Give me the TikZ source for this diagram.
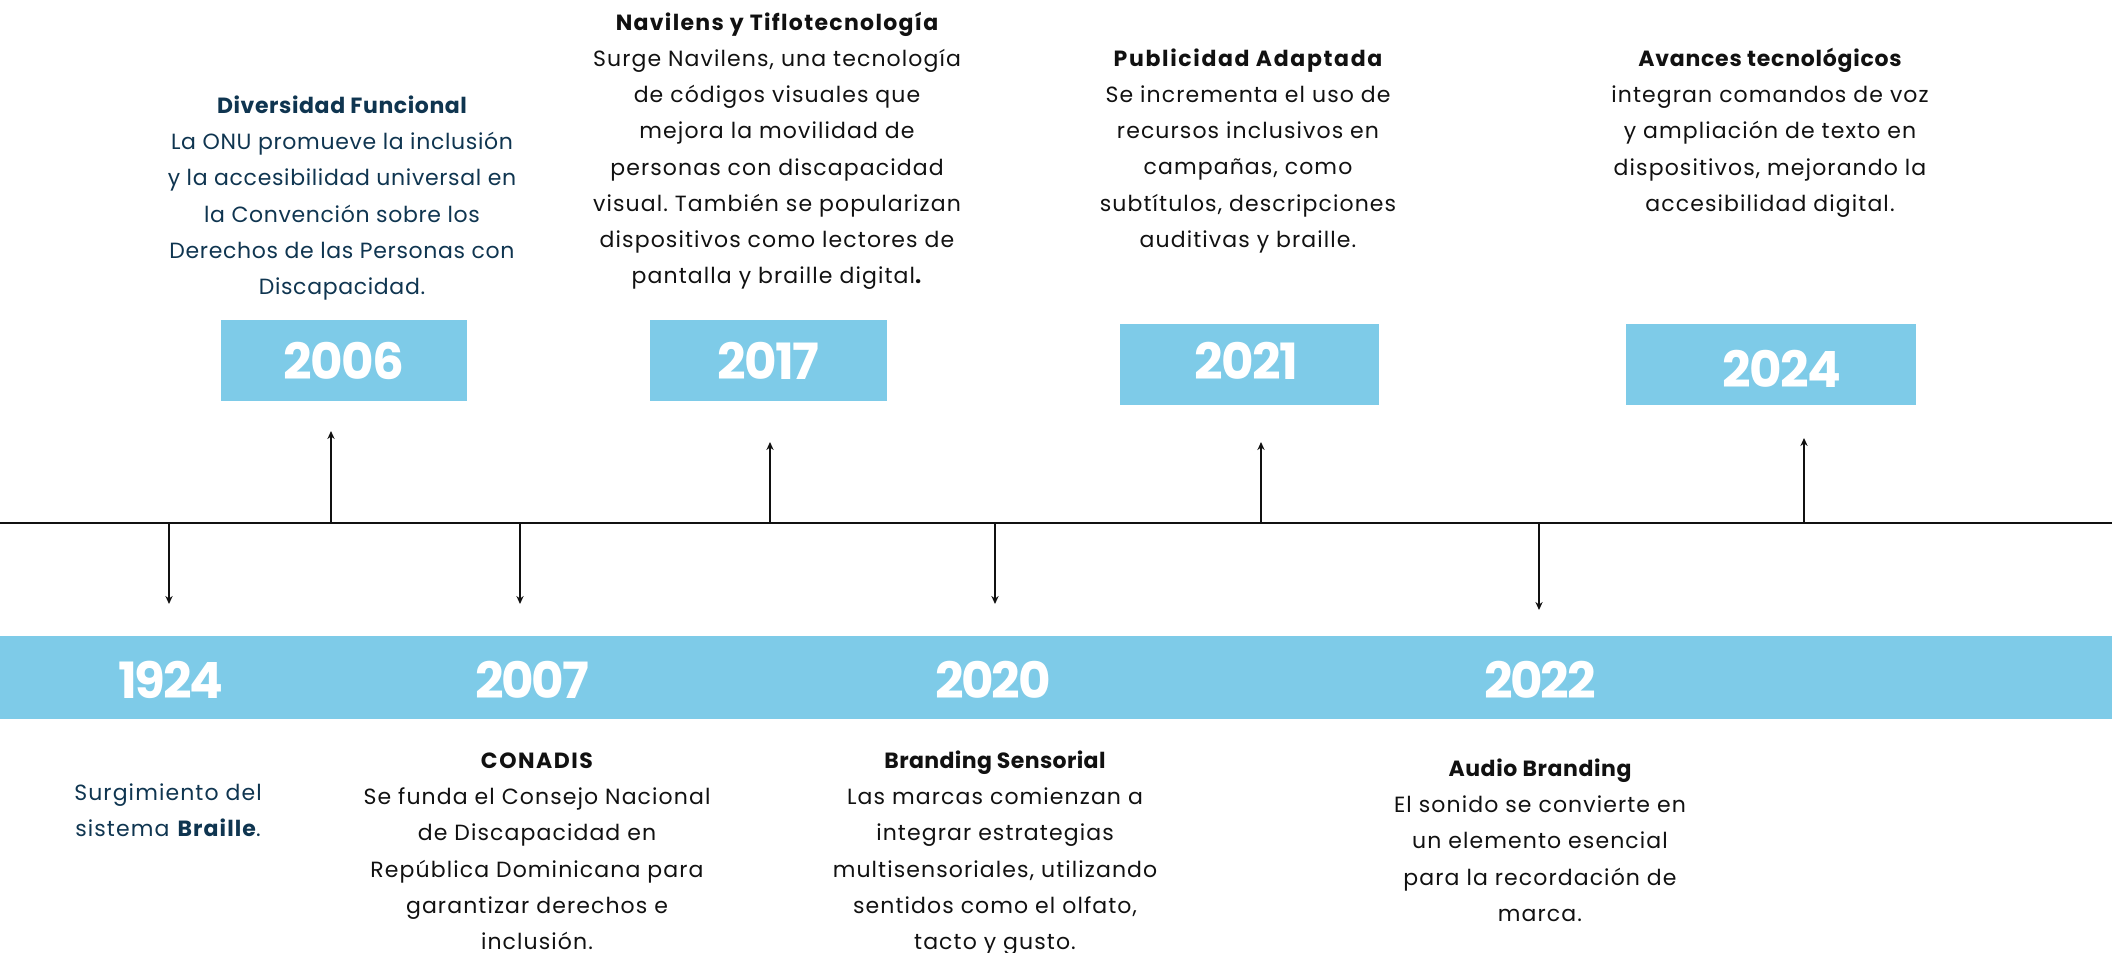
\documentclass[tikz,border=0pt]{standalone}
\usepackage{fontspec}
\setmainfont{Poppins}
\usetikzlibrary{arrows.meta}
\definecolor{bandblue}{HTML}{7ECBE8}
\definecolor{navy}{HTML}{0F3550}
\definecolor{ink}{HTML}{111111}
\frenchspacing
\newcommand{\fl}{\rule{0pt}{11pt}}
\newcommand{\hd}[2]{{\addfontfeature{LetterSpace=#1}\bfseries #2}}
\newcommand{\ls}[1]{\addfontfeature{LetterSpace=#1}}
\begin{document}
\begin{tikzpicture}[x=0.5pt,y=-0.5pt,
  yearfont/.style={font=\fontsize{25}{30}\selectfont\bfseries\ls{-3}, text=white},
  bandyear/.style={font=\fontsize{25}{30}\selectfont\bfseries\ls{-4.5}, text=white},
  yearbox/.style={yearfont, fill=bandblue, inner sep=0, minimum height=40.5pt},
  desc/.style={anchor=north, inner sep=0, align=center, text=ink,
    font=\fontsize{11}{18.1}\selectfont\frenchspacing\ls{5}},
  tick/.style={line width=0.75pt, draw=ink, -{Stealth[length=4pt,width=3.6pt]}},
  mainline/.style={line width=1.4pt, draw=ink}]
\useasboundingbox (0,0) rectangle (2112,952);

% timeline
\coordinate (lineL) at (0,523);
\coordinate (lineR) at (2112,523);
\draw[mainline] (lineL) -- (lineR);

% band
\node[fill=bandblue, inner sep=0, minimum width=1056pt, minimum height=41.5pt, anchor=north west] (band) at (0,636) {};

% band years
\node[bandyear] (y1924) at (171,680) {1924};
\node[bandyear] (y2007) at (532,680) {2007};
\node[bandyear] (y2020) at (993,680) {2020};
\node[bandyear] (y2022) at (1540,680) {2022};

% top boxes
\node[yearbox, minimum width=123pt] (y2006) at (344,360.5) {2006};
\node[yearbox, minimum width=118.5pt] (y2017) at (768.5,360.5) {2017};
\node[yearbox, minimum width=129.5pt] (y2021) at (1249.5,364) {};
\node[yearfont] (t2021) at (1246,361) {2021};
\node[yearbox, minimum width=145pt] (y2024) at (1770.5,364) {};
\node[yearfont] (t2024) at (1782,369) {2024};

% up arrows
\coordinate (s2006) at (331,523); \coordinate (e2006) at (331,431);
\coordinate (s2017) at (770,523); \coordinate (e2017) at (770,442);
\coordinate (s2021) at (1261,523); \coordinate (e2021) at (1261,442);
\coordinate (s2024) at (1804,523); \coordinate (e2024) at (1804,438);
\draw[tick] (s2006) -- (e2006);
\draw[tick] (s2017) -- (e2017);
\draw[tick] (s2021) -- (e2021);
\draw[tick] (s2024) -- (e2024);

% down arrows
\coordinate (s1924) at (169,523); \coordinate (e1924) at (169,604);
\coordinate (s2007) at (520,523); \coordinate (e2007) at (520,604);
\coordinate (s2020) at (995,523); \coordinate (e2020) at (995,604);
\coordinate (s2022) at (1539,523); \coordinate (e2022) at (1539,610);
\draw[tick] (s1924) -- (e1924);
\draw[tick] (s2007) -- (e2007);
\draw[tick] (s2020) -- (e2020);
\draw[tick] (s2022) -- (e2022);

% top descriptions
\node[desc, text=navy, font=\fontsize{11}{18.1}\selectfont\frenchspacing\ls{3}] (d2006) at (342,91) {\fl\hd{2.7}{Diversidad Funcional}\\
La ONU promueve la inclusión\\
y la accesibilidad universal en\\
la Convención sobre los\\
Derechos de las Personas con\\
Discapacidad.};

\node[desc] (d2017) at (777,8) {\fl\hd{6}{Navilens y Tiflotecnología}\\
Surge Navilens, una tecnología\\
de códigos visuales que\\
mejora la movilidad de\\
personas con discapacidad\\
visual. También se popularizan\\
dispositivos como lectores de\\
pantalla y braille digital\textbf{.}};

\node[desc] (d2021) at (1248,44) {\fl\hd{7.5}{Publicidad Adaptada}\\
Se incrementa el uso de\\
recursos inclusivos en\\
campañas, como\\
subtítulos, descripciones\\
auditivas y braille.};

\node[desc] (d2024) at (1770,44) {\fl\hd{3.4}{Avances tecnológicos}\\
integran comandos de voz\\
y ampliación de texto en\\
dispositivos, mejorando la\\
accesibilidad digital.};

% bottom descriptions
\node[desc, text=navy] (d1924) at (168,778) {\fl Surgimiento del\\
sistema \textbf{Braille}.};

\node[desc] (d2007) at (537,746) {\fl\hd{7}{CONADIS}\\
Se funda el Consejo Nacional\\
de Discapacidad en\\
República Dominicana para\\
garantizar derechos e\\
inclusión.};

\node[desc] (d2020) at (995,746) {\fl\hd{1.7}{Branding Sensorial}\\
Las marcas comienzan a\\
integrar estrategias\\
multisensoriales, utilizando\\
sentidos como el olfato,\\
tacto y gusto.};

\node[desc] (d2022) at (1540,754) {\fl\hd{2.6}{Audio Branding}\\
El sonido se convierte en\\
un elemento esencial\\
para la recordación de\\
marca.};
\end{tikzpicture}
\end{document}
